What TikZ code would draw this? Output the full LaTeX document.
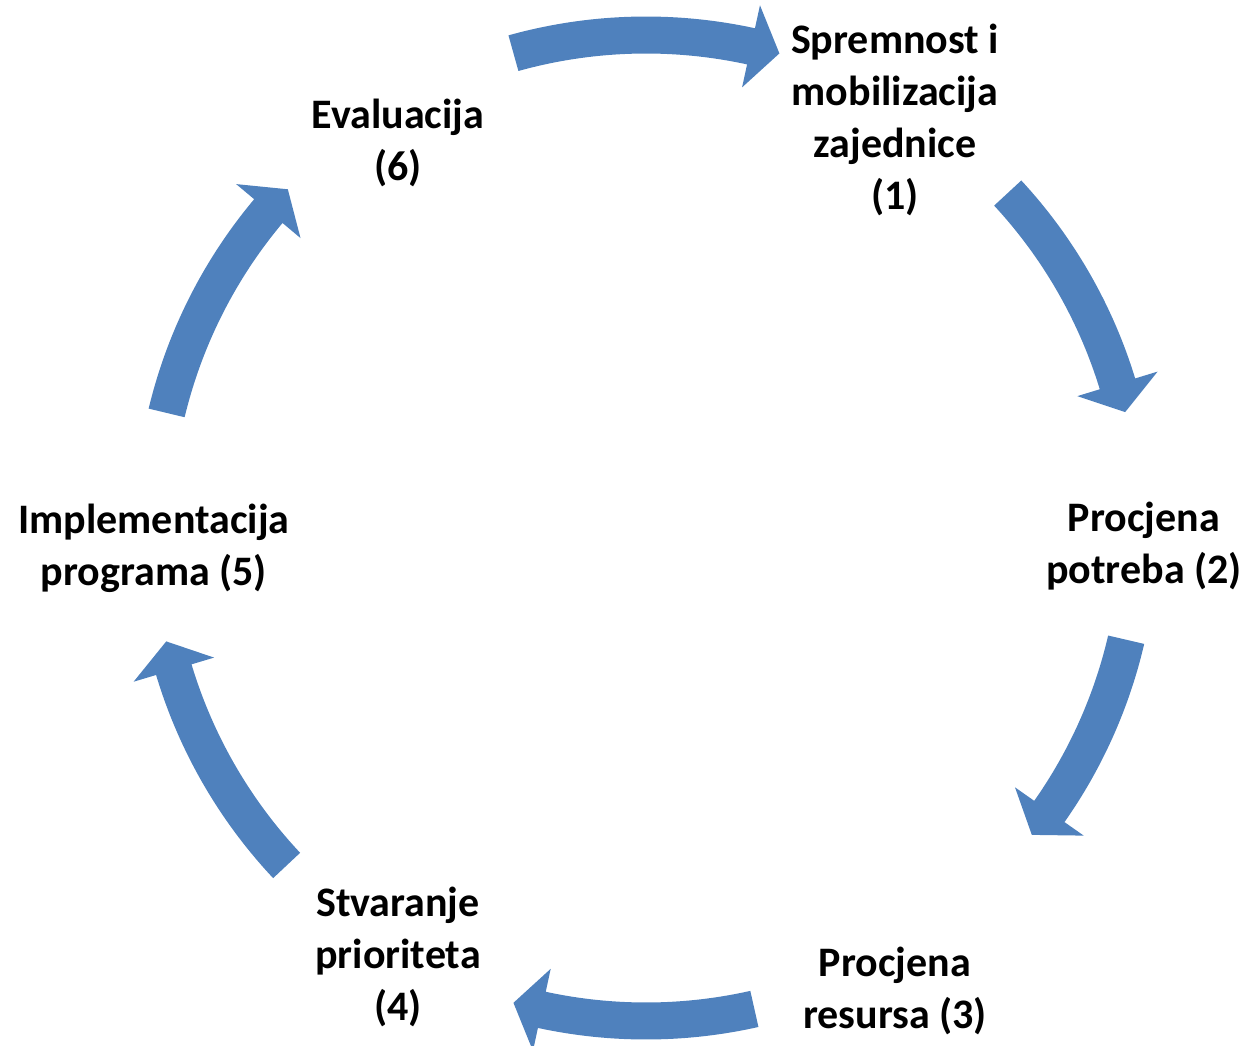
\documentclass[tikz,border=0pt]{standalone}
\usepackage{fontspec}
\setmainfont{Carlito}
\definecolor{arrowblue}{HTML}{4F81BD}
\tikzset{
  cyc/.style={fill=arrowblue},
  lbl/.style={align=center, inner sep=0pt, font=\fontsize{42}{52}\selectfont\bfseries, text=black}
}
\newcommand\cycarrow[2]{%
  \pgfmathsetmacro\hb{#2+3.4}%
  \fill[cyc, shift={(646,517)}] (#1:511.5) arc[start angle=#1, end angle=\hb, radius=511.5]
     -- (\hb:535) -- (#2:493) -- (\hb:451) -- (\hb:474.5)
     arc[start angle=\hb, end angle=#1, radius=474.5] -- cycle;}
\begin{document}
\begin{tikzpicture}[x=1pt,y=1pt]
\useasboundingbox (0,0) rectangle (1249,1045);
% arrows
\cycarrow{105.6}{74.3}
\cycarrow{42.8}{13.6}
\cycarrow{-13.1}{-38.5}
\cycarrow{-77.3}{-105.6}
\cycarrow{223.2}{193.3}
\cycarrow{166.5}{136.6}
% labels
\node[lbl] (n1) at (895,925) {Spremnost i\\mobilizacija\\zajednice\\(1)};
\node[lbl] (n2) at (1144,499) {Procjena\\potreba (2)};
\node[lbl] (n3) at (895,54) {Procjena\\resursa (3)};
\node[lbl] (n4) at (398,88) {Stvaranje\\prioriteta\\(4)};
\node[lbl] (n5) at (154,497) {Implementacija\\programa (5)};
\node[lbl] (n6) at (398,902) {Evaluacija\\(6)};
\end{tikzpicture}
\end{document}
